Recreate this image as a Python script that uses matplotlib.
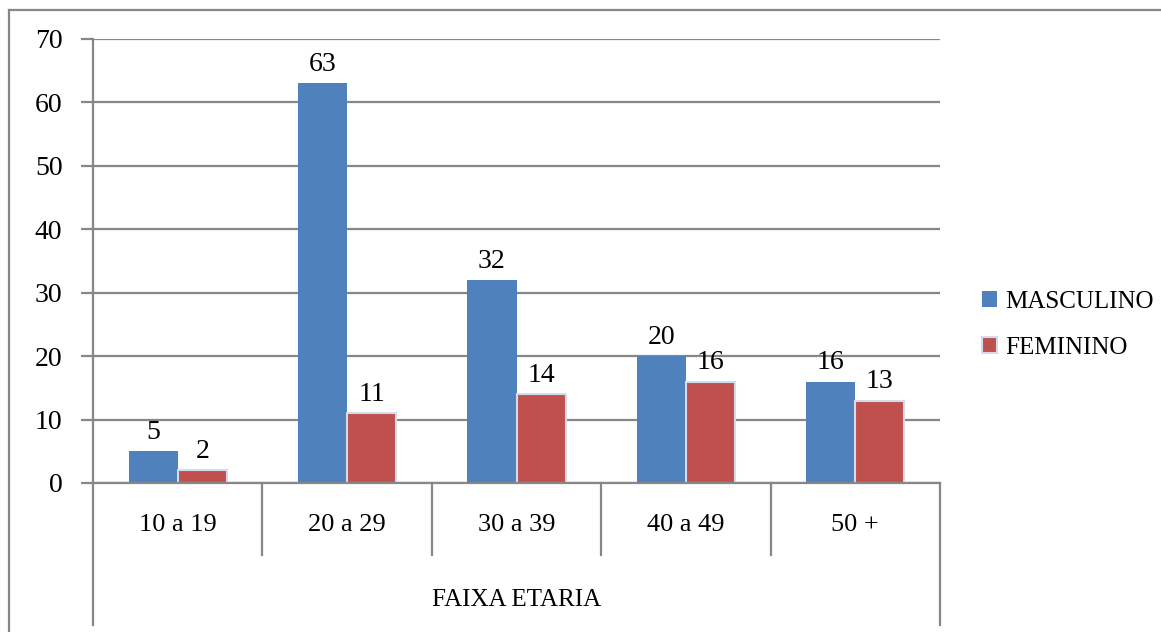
import numpy as np
import matplotlib
matplotlib.use("Agg")
import matplotlib.pyplot as plt
from matplotlib.lines import Line2D
from matplotlib.patches import Patch
import matplotlib.transforms as mtransforms

categories = ["10 a 19", "20 a 29", "30 a 39", "40 a 49", "50 +"]
masculino = [5, 63, 32, 20, 16]
feminino = [2, 11, 14, 16, 13]
series_names = ["MASCULINO", "FEMININO"]
group_label = "FAIXA ETARIA"
y_ticks = [0, 10, 20, 30, 40, 50, 60, 70]

BLUE = "#4F81BD"
RED = "#C0504D"
GRID = "#878787"
FONT = "Liberation Serif"
FS_NUM = 20
FS_CAT = 19
FS_TXT = 18

W, H = 1161, 632
fig = plt.figure(figsize=(W / 100, H / 100), dpi=100)
fig.patch.set_facecolor("white")

# plot area in pixel coordinates
left, right, top, bottom = 93, 940, 39, 483
ax = fig.add_axes([left / W, (H - bottom) / H, (right - left) / W, (bottom - top) / H])

x = np.arange(len(categories))
bw = 0.29
ax.bar(x - bw / 2, masculino, width=bw, color=BLUE, edgecolor="none", zorder=3)
ax.bar(x + bw / 2, feminino, width=bw, color=RED, edgecolor="#D3DCEF", linewidth=1.5, zorder=3)

for xi, v in zip(x - bw / 2, masculino):
    ax.annotate(str(v), (xi, v), xytext=(0, 9), textcoords="offset points",
                ha="center", va="baseline", fontsize=FS_NUM, family=FONT)
for xi, v in zip(x + bw / 2, feminino):
    ax.annotate(str(v), (xi, v), xytext=(0, 9), textcoords="offset points",
                ha="center", va="baseline", fontsize=FS_NUM, family=FONT)

ax.set_xlim(-0.5, len(categories) - 0.5)
ax.set_ylim(0, 70)
ax.set_yticks(y_ticks)
ax.set_yticklabels([str(t) for t in y_ticks], fontsize=FS_NUM, family=FONT)
ax.yaxis.grid(True, color=GRID, linewidth=1.6, zorder=0)
ax.set_axisbelow(True)
ax.tick_params(axis="y", length=9, width=1.6, color=GRID, pad=13)
ax.set_xticks([])

for s in ["top", "right"]:
    ax.spines[s].set_visible(False)
for s in ["left", "bottom"]:
    ax.spines[s].set_color(GRID)
    ax.spines[s].set_linewidth(1.6)
ax.spines["bottom"].set_zorder(4)

# multi-level category axis below the plot
trans = mtransforms.blended_transform_factory(ax.transData, ax.transAxes)
ph = bottom - top
inner_depth = -(555 - bottom) / ph
outer_depth = -(625 - bottom) / ph
bounds = np.arange(len(categories) + 1) - 0.5
for i, b in enumerate(bounds):
    depth = outer_depth if i in (0, len(bounds) - 1) else inner_depth
    ax.add_line(Line2D([b, b], [0, depth], transform=trans, color=GRID,
                       linewidth=1.6, clip_on=False))
for xi, c in zip(x, categories):
    ax.text(xi, -(525 - bottom) / ph, c, transform=trans, ha="center", va="center",
            fontsize=FS_CAT, family=FONT)
ax.text(np.mean(x), -(600 - bottom) / ph, group_label, transform=trans,
        ha="center", va="center", fontsize=FS_TXT, family=FONT)

# legend
handles = [Patch(facecolor=BLUE, edgecolor="none"),
           Patch(facecolor=RED, edgecolor="#D3DCEF", linewidth=1.5)]
leg = fig.legend(handles, series_names, loc="center left",
                 bbox_to_anchor=(982 / W, 1 - 325 / H), frameon=False,
                 prop={"family": FONT, "size": FS_TXT}, handlelength=0.6,
                 handleheight=0.6, handletextpad=0.32, labelspacing=0.95,
                 borderpad=0, borderaxespad=0)

# chart frame
fig.add_artist(Line2D([9 / W, 9 / W], [0, 1 - 10 / H], transform=fig.transFigure,
                      color=GRID, linewidth=1.6))
fig.add_artist(Line2D([9 / W, 1160 / W], [1 - 10 / H, 1 - 10 / H], transform=fig.transFigure,
                      color=GRID, linewidth=1.6))

fig.savefig("out.png", dpi=100, facecolor="white")
